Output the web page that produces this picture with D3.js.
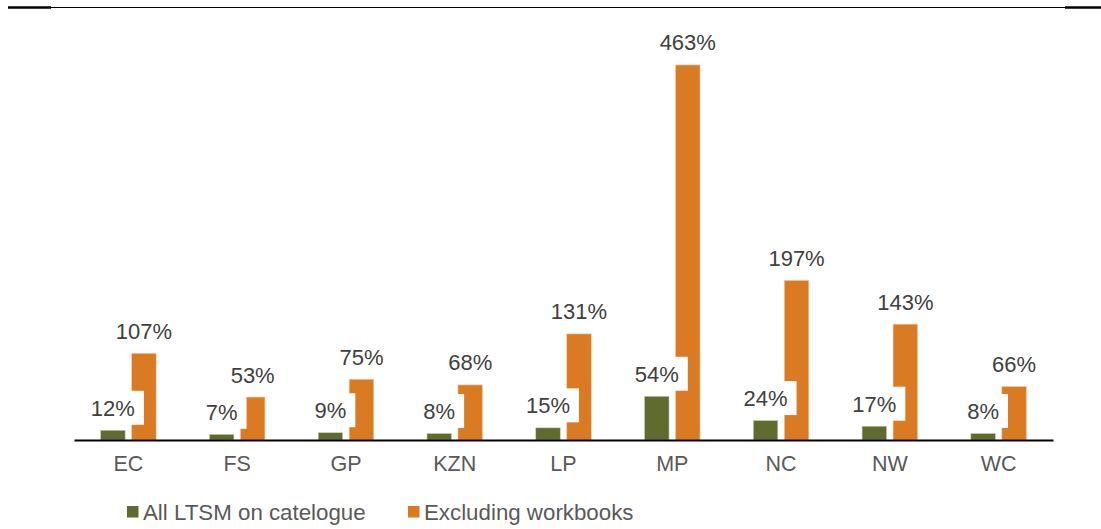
<!DOCTYPE html>
<html>
<head>
<meta charset="utf-8">
<script src="https://cdn.jsdelivr.net/npm/d3@7"></script>
<style>
html,body{margin:0;padding:0;background:#fff;}
svg{display:block;font-family:"Liberation Sans",Arial,sans-serif;}
</style>
</head>
<body>
<svg id="chart" width="1101" height="529"></svg>
<script>
const categories = ["EC","FS","GP","KZN","LP","MP","NC","NW","WC"];
const seriesNames = ["All LTSM on catelogue","Excluding workbooks"];
const allLTSM = [12,7,9,8,15,54,24,17,8];
const exclWorkbooks = [107,53,75,68,131,463,197,143,66];
const colors = ["#5F6B2F","#DA7A22"];

const svg = d3.select("#chart");
const plot = {left:74, right:1053, top:35, bottom:440};

// decorative top rules
svg.append("line").attr("x1",8).attr("x2",1101).attr("y1",7.5).attr("y2",7.5)
  .attr("stroke","#000").attr("stroke-width",1);
svg.append("line").attr("x1",8).attr("x2",51).attr("y1",7.5).attr("y2",7.5)
  .attr("stroke","#000").attr("stroke-width",2.5);
svg.append("line").attr("x1",1065).attr("x2",1101).attr("y1",7.5).attr("y2",7.5)
  .attr("stroke","#000").attr("stroke-width",2.5);

const x = d3.scaleBand().domain(categories).range([plot.left, plot.right]).padding(0);
const y = d3.scaleLinear().domain([0,500]).range([plot.bottom, plot.bottom - 500*0.81]);
const barW = 24.5, gap = 6.5;

const data = categories.map((c,i)=>({cat:c, vals:[allLTSM[i], exclWorkbooks[i]]}));

function barX(cat, s){
  const c = x(cat) + x.bandwidth()/2;
  return s===0 ? c - gap/2 - barW : c + gap/2;
}

// bars
[0,1].forEach(s=>{
  svg.append("g").selectAll("rect").data(data).join("rect")
    .attr("x", d=>barX(d.cat,s))
    .attr("y", d=>y(d.vals[s]))
    .attr("width", barW)
    .attr("height", d=>y(0)-y(d.vals[s]))
    .attr("fill", colors[s])
    .attr("stroke", s===0 ? "#c9ceb0" : "#f3c9a3")
    .attr("stroke-width", 0.6);
});

// axis line
const xAxis = d3.axisBottom(x).tickSize(0).tickPadding(16);
const ax = svg.append("g").attr("transform",`translate(0,${plot.bottom})`).call(xAxis);
ax.select(".domain").attr("stroke","#000").attr("stroke-width",2);
ax.selectAll("text").attr("font-size",21.5).attr("fill","#595959")
  .attr("font-family","'Liberation Sans',Arial,sans-serif");

// data labels
[0,1].forEach(s=>{
  const g = svg.append("g");
  data.forEach(d=>{
    const cx = barX(d.cat,s) + barW/2;
    const cy = y(d.vals[s]) - 22;
    const lg = g.append("g");
    const rect = lg.append("rect").attr("fill","#fff");
    const t = lg.append("text").attr("x",cx).attr("y",cy)
      .attr("text-anchor","middle").attr("dominant-baseline","central")
      .attr("font-size",22).attr("fill","#404040")
      .text(d.vals[s] + "%");
    const bb = t.node().getBBox();
    rect.attr("x", bb.x - 9).attr("y", cy - 17.5)
      .attr("width", bb.width + 18).attr("height", 34);
  });
});

// legend
const legend = svg.append("g");
const legendItems = [{x:127, name:seriesNames[0], c:colors[0]},{x:408, name:seriesNames[1], c:colors[1]}];
legendItems.forEach(it=>{
  legend.append("rect").attr("x",it.x).attr("y",506).attr("width",11.5).attr("height",11.5).attr("fill",it.c);
  legend.append("text").attr("x",it.x+16).attr("y",512).attr("dominant-baseline","central")
    .attr("font-size",22.3).attr("fill","#595959").text(it.name);
});
</script>
</body>
</html>
